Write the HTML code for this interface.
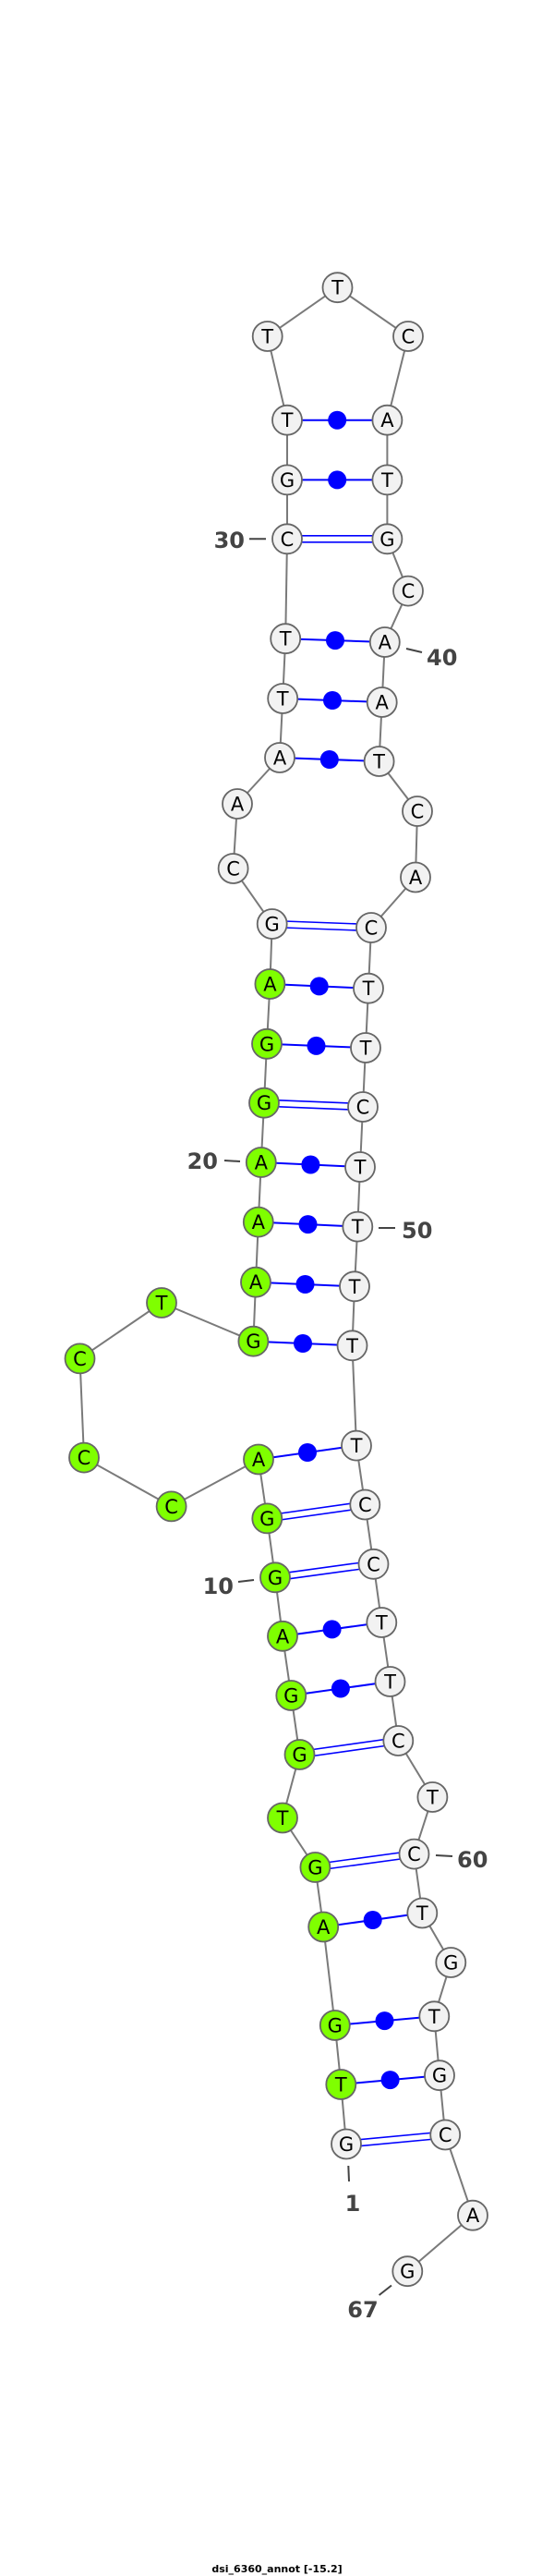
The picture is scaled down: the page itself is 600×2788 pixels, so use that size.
<!DOCTYPE html>
<html><head><meta charset="utf-8"><style>
html,body{margin:0;padding:0;background:#fff;}
svg{display:block;}
.b{stroke:#7a7a7a;stroke-width:2;fill:none;}
.p{stroke:#0000ff;stroke-width:2;}
.d{stroke:#0000ff;stroke-width:1.6;}
.n{stroke:#666;stroke-width:1.8;}
.w{fill:#f2f2f2;}
.g{fill:#7fff00;}
.t{font-family:"DejaVu Sans","Liberation Sans",sans-serif;font-size:21px;text-anchor:middle;fill:#000;}
.l{font-family:"DejaVu Sans","Liberation Sans",sans-serif;font-size:24px;font-weight:bold;fill:#444;}
.k{stroke:#444;stroke-width:2;}
</style></head><body>
<svg id="s" width="600" height="2788" xmlns="http://www.w3.org/2000/svg">
<polyline class="b" points="375,2320.5 369.3,2256 362.8,2192 350.2,2085.5 341.4,2021 306,1967.5 324.5,1899 315.3,1835 306,1770.8 298,1707.3 289.3,1643.4 280,1579.5 185.6,1630.4 91,1577.6 86.5,1470.4 175,1410 274.4,1451.7 277,1387.7 279.8,1322.6 282.8,1258 286,1193.7 289,1129.8 292.4,1065 294.7,1000 252.6,940 257,870 303,820 306.2,756 309.2,691.2 311,583.3 311,519.4 311,454.7 289.7,364 365.5,311.2 442,364 419.4,454.7 419.4,519.4 419.4,583.3 442,639.6 416.8,695 413.7,760 410.6,824 452,878 450,949.5 402,1004 399,1069.7 396,1134 393,1198 390,1263 387.3,1327.6 384,1392.3 381.5,1456.3 386,1564.6 395.3,1628.5 404.5,1692.8 413.3,1756 422.5,1820 431.3,1884 468.4,1945 448.5,2006.6 457.3,2070.5 488.3,2124 470.3,2182.3 476,2246.2 482.2,2310.5 512,2397.7 441.3,2458.2"/>
<!-- dot pairs -->
<g>
<line class="p" x1="369.3" y1="2256" x2="476" y2="2246.2"/><circle cx="422.6" cy="2251.1" r="10" fill="#00f"/>
<line class="p" x1="362.8" y1="2192" x2="470.3" y2="2182.3"/><circle cx="416.5" cy="2187.1" r="10" fill="#00f"/>
<line class="p" x1="350.2" y1="2085.5" x2="457.3" y2="2070.5"/><circle cx="403.7" cy="2078" r="10" fill="#00f"/>
<line class="p" x1="315.3" y1="1835" x2="422.5" y2="1820"/><circle cx="368.9" cy="1827.5" r="10" fill="#00f"/>
<line class="p" x1="306" y1="1770.8" x2="413.3" y2="1756"/><circle cx="359.6" cy="1763.4" r="10" fill="#00f"/>
<line class="p" x1="280" y1="1579.5" x2="386" y2="1564.6"/><circle cx="333" cy="1572" r="10" fill="#00f"/>
<line class="p" x1="274.4" y1="1451.7" x2="381.5" y2="1456.3"/><circle cx="328" cy="1454" r="10" fill="#00f"/>
<line class="p" x1="277" y1="1387.7" x2="384" y2="1392.3"/><circle cx="330.5" cy="1390" r="10" fill="#00f"/>
<line class="p" x1="279.8" y1="1322.6" x2="387.3" y2="1327.6"/><circle cx="333.5" cy="1325.1" r="10" fill="#00f"/>
<line class="p" x1="282.8" y1="1258" x2="390" y2="1263"/><circle cx="336.4" cy="1260.5" r="10" fill="#00f"/>
<line class="p" x1="289" y1="1129.8" x2="396" y2="1134"/><circle cx="342.5" cy="1131.9" r="10" fill="#00f"/>
<line class="p" x1="292.4" y1="1065" x2="399" y2="1069.7"/><circle cx="345.7" cy="1067.4" r="10" fill="#00f"/>
<line class="p" x1="303" y1="820" x2="410.6" y2="824"/><circle cx="356.8" cy="822" r="10" fill="#00f"/>
<line class="p" x1="306.2" y1="756" x2="413.7" y2="760"/><circle cx="360" cy="758" r="10" fill="#00f"/>
<line class="p" x1="309.2" y1="691.2" x2="416.8" y2="695"/><circle cx="363" cy="693.1" r="10" fill="#00f"/>
<line class="p" x1="311" y1="519.4" x2="419.4" y2="519.4"/><circle cx="365.2" cy="519.4" r="10" fill="#00f"/>
<line class="p" x1="311" y1="454.7" x2="419.4" y2="454.7"/><circle cx="365.2" cy="454.7" r="10" fill="#00f"/>
</g>
<!-- double pairs -->
<g>
<line class="d" x1="375" y1="2317" x2="482.2" y2="2307"/><line class="d" x1="375" y1="2324" x2="482.2" y2="2314"/>
<line class="d" x1="341.4" y1="2017.5" x2="448.5" y2="2003"/><line class="d" x1="341.4" y1="2024.5" x2="448.5" y2="2010"/>
<line class="d" x1="324.5" y1="1895.5" x2="431.3" y2="1880.5"/><line class="d" x1="324.5" y1="1902.5" x2="431.3" y2="1887.5"/>
<line class="d" x1="298" y1="1703.8" x2="404.5" y2="1689.3"/><line class="d" x1="298" y1="1710.8" x2="404.5" y2="1696.3"/>
<line class="d" x1="289.3" y1="1640" x2="395.3" y2="1625"/><line class="d" x1="289.3" y1="1647" x2="395.3" y2="1632"/>
<line class="d" x1="286" y1="1190.2" x2="393" y2="1194.5"/><line class="d" x1="286" y1="1197.2" x2="393" y2="1201.5"/>
<line class="d" x1="294.7" y1="996.5" x2="402" y2="1000.5"/><line class="d" x1="294.7" y1="1003.5" x2="402" y2="1007.5"/>
<line class="d" x1="311" y1="579.8" x2="419.4" y2="579.8"/><line class="d" x1="311" y1="586.8" x2="419.4" y2="586.8"/>
</g>
<g class="n">
<circle class="w" cx="375" cy="2320.5" r="16"/><circle class="g" cx="369.3" cy="2256" r="16"/><circle class="g" cx="362.8" cy="2192" r="16"/><circle class="g" cx="350.2" cy="2085.5" r="16"/><circle class="g" cx="341.4" cy="2021" r="16"/><circle class="g" cx="306" cy="1967.5" r="16"/><circle class="g" cx="324.5" cy="1899" r="16"/><circle class="g" cx="315.3" cy="1835" r="16"/><circle class="g" cx="306" cy="1770.8" r="16"/><circle class="g" cx="298" cy="1707.3" r="16"/><circle class="g" cx="289.3" cy="1643.4" r="16"/><circle class="g" cx="280" cy="1579.5" r="16"/><circle class="g" cx="185.6" cy="1630.4" r="16"/><circle class="g" cx="91" cy="1577.6" r="16"/><circle class="g" cx="86.5" cy="1470.4" r="16"/><circle class="g" cx="175" cy="1410" r="16"/><circle class="g" cx="274.4" cy="1451.7" r="16"/><circle class="g" cx="277" cy="1387.7" r="16"/><circle class="g" cx="279.8" cy="1322.6" r="16"/><circle class="g" cx="282.8" cy="1258" r="16"/><circle class="g" cx="286" cy="1193.7" r="16"/><circle class="g" cx="289" cy="1129.8" r="16"/><circle class="g" cx="292.4" cy="1065" r="16"/>
<circle class="w" cx="294.7" cy="1000" r="16"/><circle class="w" cx="252.6" cy="940" r="16"/><circle class="w" cx="257" cy="870" r="16"/><circle class="w" cx="303" cy="820" r="16"/><circle class="w" cx="306.2" cy="756" r="16"/><circle class="w" cx="309.2" cy="691.2" r="16"/><circle class="w" cx="311" cy="583.3" r="16"/><circle class="w" cx="311" cy="519.4" r="16"/><circle class="w" cx="311" cy="454.7" r="16"/><circle class="w" cx="289.7" cy="364" r="16"/><circle class="w" cx="365.5" cy="311.2" r="16"/><circle class="w" cx="442" cy="364" r="16"/><circle class="w" cx="419.4" cy="454.7" r="16"/><circle class="w" cx="419.4" cy="519.4" r="16"/><circle class="w" cx="419.4" cy="583.3" r="16"/><circle class="w" cx="442" cy="639.6" r="16"/><circle class="w" cx="416.8" cy="695" r="16"/><circle class="w" cx="413.7" cy="760" r="16"/><circle class="w" cx="410.6" cy="824" r="16"/><circle class="w" cx="452" cy="878" r="16"/><circle class="w" cx="450" cy="949.5" r="16"/><circle class="w" cx="402" cy="1004" r="16"/><circle class="w" cx="399" cy="1069.7" r="16"/><circle class="w" cx="396" cy="1134" r="16"/><circle class="w" cx="393" cy="1198" r="16"/><circle class="w" cx="390" cy="1263" r="16"/><circle class="w" cx="387.3" cy="1327.6" r="16"/><circle class="w" cx="384" cy="1392.3" r="16"/><circle class="w" cx="381.5" cy="1456.3" r="16"/><circle class="w" cx="386" cy="1564.6" r="16"/><circle class="w" cx="395.3" cy="1628.5" r="16"/><circle class="w" cx="404.5" cy="1692.8" r="16"/><circle class="w" cx="413.3" cy="1756" r="16"/><circle class="w" cx="422.5" cy="1820" r="16"/><circle class="w" cx="431.3" cy="1884" r="16"/><circle class="w" cx="468.4" cy="1945" r="16"/><circle class="w" cx="448.5" cy="2006.6" r="16"/><circle class="w" cx="457.3" cy="2070.5" r="16"/><circle class="w" cx="488.3" cy="2124" r="16"/><circle class="w" cx="470.3" cy="2182.3" r="16"/><circle class="w" cx="476" cy="2246.2" r="16"/><circle class="w" cx="482.2" cy="2310.5" r="16"/><circle class="w" cx="512" cy="2397.7" r="16"/><circle class="w" cx="441.3" cy="2458.2" r="16"/>
</g>
<g class="t">
<text x="375" y="2328">G</text><text x="369.3" y="2263.5">T</text><text x="362.8" y="2199.5">G</text><text x="350.2" y="2093">A</text><text x="341.4" y="2028.5">G</text><text x="306" y="1975">T</text><text x="324.5" y="1906.5">G</text><text x="315.3" y="1842.5">G</text><text x="306" y="1778.3">A</text><text x="298" y="1714.8">G</text><text x="289.3" y="1650.9">G</text><text x="280" y="1587">A</text><text x="185.6" y="1637.9">C</text><text x="91" y="1585.1">C</text><text x="86.5" y="1477.9">C</text><text x="175" y="1417.5">T</text><text x="274.4" y="1459.2">G</text><text x="277" y="1395.2">A</text><text x="279.8" y="1330.1">A</text><text x="282.8" y="1265.5">A</text><text x="286" y="1201.2">G</text><text x="289" y="1137.3">G</text><text x="292.4" y="1072.5">A</text>
<text x="294.7" y="1007.5">G</text><text x="252.6" y="947.5">C</text><text x="257" y="877.5">A</text><text x="303" y="827.5">A</text><text x="306.2" y="763.5">T</text><text x="309.2" y="698.7">T</text><text x="311" y="590.8">C</text><text x="311" y="526.9">G</text><text x="311" y="462.2">T</text><text x="289.7" y="371.5">T</text><text x="365.5" y="318.7">T</text><text x="442" y="371.5">C</text><text x="419.4" y="462.2">A</text><text x="419.4" y="526.9">T</text><text x="419.4" y="590.8">G</text><text x="442" y="647.1">C</text><text x="416.8" y="702.5">A</text><text x="413.7" y="767.5">A</text><text x="410.6" y="831.5">T</text><text x="452" y="885.5">C</text><text x="450" y="957">A</text><text x="402" y="1011.5">C</text><text x="399" y="1077.2">T</text><text x="396" y="1141.5">T</text><text x="393" y="1205.5">C</text><text x="390" y="1270.5">T</text><text x="387.3" y="1335.1">T</text><text x="384" y="1399.8">T</text><text x="381.5" y="1463.8">T</text><text x="386" y="1572.1">T</text><text x="395.3" y="1636">C</text><text x="404.5" y="1700.3">C</text><text x="413.3" y="1763.5">T</text><text x="422.5" y="1827.5">T</text><text x="431.3" y="1891.5">C</text><text x="468.4" y="1952.5">T</text><text x="448.5" y="2014.1">C</text><text x="457.3" y="2078">T</text><text x="488.3" y="2131.5">G</text><text x="470.3" y="2189.8">T</text><text x="476" y="2253.7">G</text><text x="482.2" y="2318">C</text><text x="512" y="2405.2">A</text><text x="441.3" y="2465.7">G</text>
</g>
<g>
<line class="k" x1="270" y1="583.3" x2="288" y2="583.3"/><text class="l" x="265" y="593" text-anchor="end">30</text>
<line class="k" x1="440" y1="702" x2="457" y2="706"/><text class="l" x="462" y="720">40</text>
<line class="k" x1="243" y1="1256" x2="260" y2="1257"/><text class="l" x="236" y="1265" text-anchor="end">20</text>
<line class="k" x1="410" y1="1329" x2="428" y2="1329"/><text class="l" x="435" y="1340">50</text>
<line class="k" x1="258" y1="1712" x2="275" y2="1710"/><text class="l" x="253" y="1725" text-anchor="end">10</text>
<line class="k" x1="472" y1="2008" x2="490" y2="2009"/><text class="l" x="495" y="2021">60</text>
<line class="k" x1="377.3" y1="2344" x2="378" y2="2361"/><text class="l" x="382" y="2393" text-anchor="middle">1</text>
<line class="k" x1="410.6" y1="2484" x2="424" y2="2473.5"/><text class="l" x="393" y="2508" text-anchor="middle">67</text>
</g>
<text x="300" y="2784" text-anchor="middle" style="font-family:'DejaVu Sans','Liberation Sans',sans-serif;font-size:11px;font-weight:bold;fill:#000;">dsi_6360_annot [-15.2]</text>
</svg>
</body></html>
